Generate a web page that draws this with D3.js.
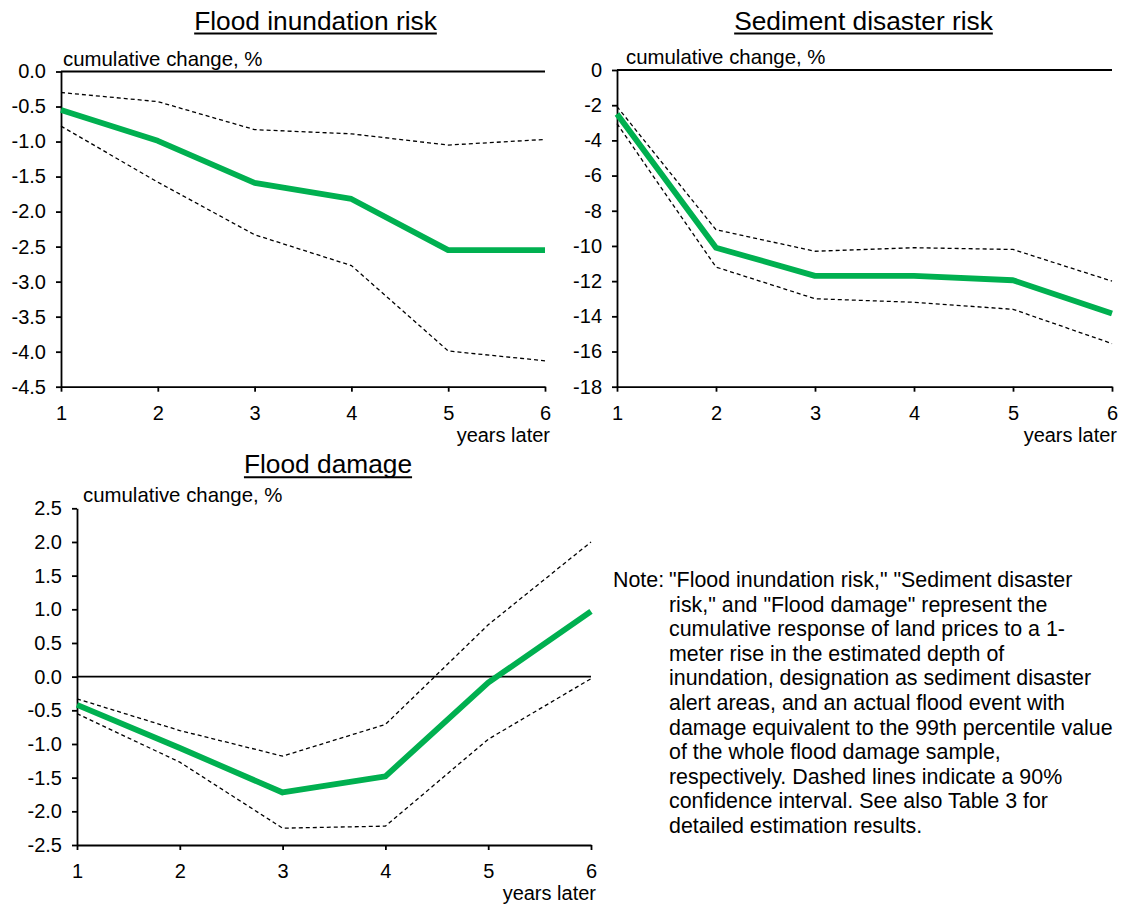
<!DOCTYPE html>
<html>
<head>
<meta charset="utf-8">
<script src="https://cdn.jsdelivr.net/npm/d3@7"></script>
<style>
  html, body { margin: 0; padding: 0; background: #fff; }
  svg { display: block; font-family: "Liberation Sans", Arial, sans-serif; }
</style>
</head>
<body>
<div id="chart"></div>
<script>
// years after the event
const years = [1, 2, 3, 4, 5, 6];

// Flood inundation risk: point estimate and 90% band
const inundationEst   = [-0.55, -0.99, -1.59, -1.82, -2.55, -2.55];
const inundationUpper = [-0.30, -0.43, -0.83, -0.89, -1.05, -0.97];
const inundationLower = [-0.78, -1.58, -2.33, -2.77, -3.99, -4.13];

// Sediment disaster risk
const sedimentEst   = [-2.5, -10.1, -11.7, -11.7, -11.95, -13.84];
const sedimentUpper = [-2.08, -9.08, -10.3, -10.1, -10.2, -12.0];
const sedimentLower = [-3.05, -11.2, -13.0, -13.2, -13.6, -15.55];

// Flood damage
const damageEst   = [-0.42, -1.06, -1.72, -1.48, -0.09, 0.97];
const damageUpper = [-0.33, -0.80, -1.18, -0.71, 0.77, 2.0];
const damageLower = [-0.55, -1.27, -2.25, -2.22, -0.93, -0.03];

// y tick values
const inundationTicks = [0, -0.5, -1, -1.5, -2, -2.5, -3, -3.5, -4, -4.5];
const sedimentTicks = [0, -2, -4, -6, -8, -10, -12, -14, -16, -18];
const damageTicks = [2.5, 2, 1.5, 1, 0.5, 0, -0.5, -1, -1.5, -2, -2.5];

const noteLines = [
  "\"Flood inundation risk,\" \"Sediment disaster",
  "risk,\" and \"Flood damage\" represent the",
  "cumulative response of land prices to a 1-",
  "meter rise in the estimated depth of",
  "inundation, designation as sediment disaster",
  "alert areas, and an actual flood event with",
  "damage equivalent to the 99th percentile value",
  "of the whole flood damage sample,",
  "respectively. Dashed lines indicate a 90%",
  "confidence interval. See also Table 3 for",
  "detailed estimation results."
];

const W = 1126, H = 908;
const green = "#00B050";

const svg = d3.select("#chart").append("svg")
  .attr("width", W)
  .attr("height", H);

const panels = [
  { title: "Flood inundation risk", est: inundationEst, upper: inundationUpper, lower: inundationLower,
    ticks: inundationTicks, fmt: d => d.toFixed(1),
    left: 61, right: 545, top: 71.5, bottom: 386.7, titleX: 315.5, titleY: 29.5, labelDx: 2 },
  { title: "Sediment disaster risk", est: sedimentEst, upper: sedimentUpper, lower: sedimentLower,
    ticks: sedimentTicks, fmt: d => d.toFixed(0),
    left: 617, right: 1112, top: 70, bottom: 386.7, titleX: 863.5, titleY: 29.5, labelDx: 9 },
  { title: "Flood damage", est: damageEst, upper: damageUpper, lower: damageLower,
    ticks: damageTicks, fmt: d => d.toFixed(1),
    left: 77, right: 591, top: 508.3, bottom: 845, titleX: 328, titleY: 473.3, labelDx: 6 }
];

panels.forEach(p => {
  const g = svg.append("g");

  const x = d3.scaleLinear()
    .domain(d3.extent(years))
    .range([p.left, p.right]);

  const y = d3.scaleLinear()
    .domain(d3.extent(p.ticks))
    .range([p.bottom, p.top]);

  // title, underlined
  const t = g.append("text")
    .attr("x", p.titleX)
    .attr("y", p.titleY)
    .attr("text-anchor", "middle")
    .style("font-size", "26.3px")
    .text(p.title);
  const tw = t.node().getComputedTextLength();
  g.append("line")
    .attr("x1", p.titleX - tw / 2)
    .attr("x2", p.titleX + tw / 2)
    .attr("y1", p.titleY + 4)
    .attr("y2", p.titleY + 4)
    .attr("stroke", "#000")
    .attr("stroke-width", 2);

  // y axis
  const yAxis = g.append("g")
    .attr("transform", `translate(${p.left},0)`)
    .call(d3.axisLeft(y).tickValues(p.ticks).tickFormat(p.fmt).tickSize(5).tickSizeOuter(0).tickPadding(10));

  // x axis along the bottom
  const xAxis = g.append("g")
    .attr("transform", `translate(0,${p.bottom})`)
    .call(d3.axisBottom(x).tickValues(years).tickFormat(d3.format("d")).tickSize(5).tickSizeOuter(0).tickPadding(14));

  [yAxis, xAxis].forEach(a => {
    a.selectAll("path, line").attr("stroke", "#000").attr("stroke-width", 1.8);
    a.selectAll("text").attr("fill", "#000").style("font-size", "20px").attr("font-family", null);
  });

  // zero line
  g.append("line")
    .attr("x1", p.left)
    .attr("x2", p.right)
    .attr("y1", y(0))
    .attr("y2", y(0))
    .attr("stroke", "#000")
    .attr("stroke-width", 1.8);

  g.append("text")
    .attr("x", p.left + p.labelDx)
    .attr("y", p.top - 6)
    .style("font-size", "20.4px")
    .text("cumulative change, %");

  g.append("text")
    .attr("x", p.right + 5)
    .attr("y", p.bottom + 55)
    .attr("text-anchor", "end")
    .style("font-size", "20px")
    .text("years later");

  const line = d3.line()
    .x((d, i) => x(years[i]))
    .y(d => y(d));

  [p.upper, p.lower].forEach(s => {
    g.append("path")
      .datum(s)
      .attr("d", line)
      .attr("fill", "none")
      .attr("stroke", "#000")
      .attr("stroke-width", 1.3)
      .attr("stroke-dasharray", "4,3");
  });

  g.append("path")
    .datum(p.est)
    .attr("d", line)
    .attr("fill", "none")
    .attr("stroke", green)
    .attr("stroke-width", 5.8)
    .attr("stroke-linejoin", "round");
});

// note text block
const note = svg.append("g").style("font-size", "21.4px");
note.append("text")
  .attr("x", 613)
  .attr("y", 587)
  .text("Note:");
note.selectAll("text.line")
  .data(noteLines)
  .join("text")
  .attr("class", "line")
  .attr("x", 669)
  .attr("y", (d, i) => 587 + i * 24.6)
  .text(d => d);
</script>
</body>
</html>
